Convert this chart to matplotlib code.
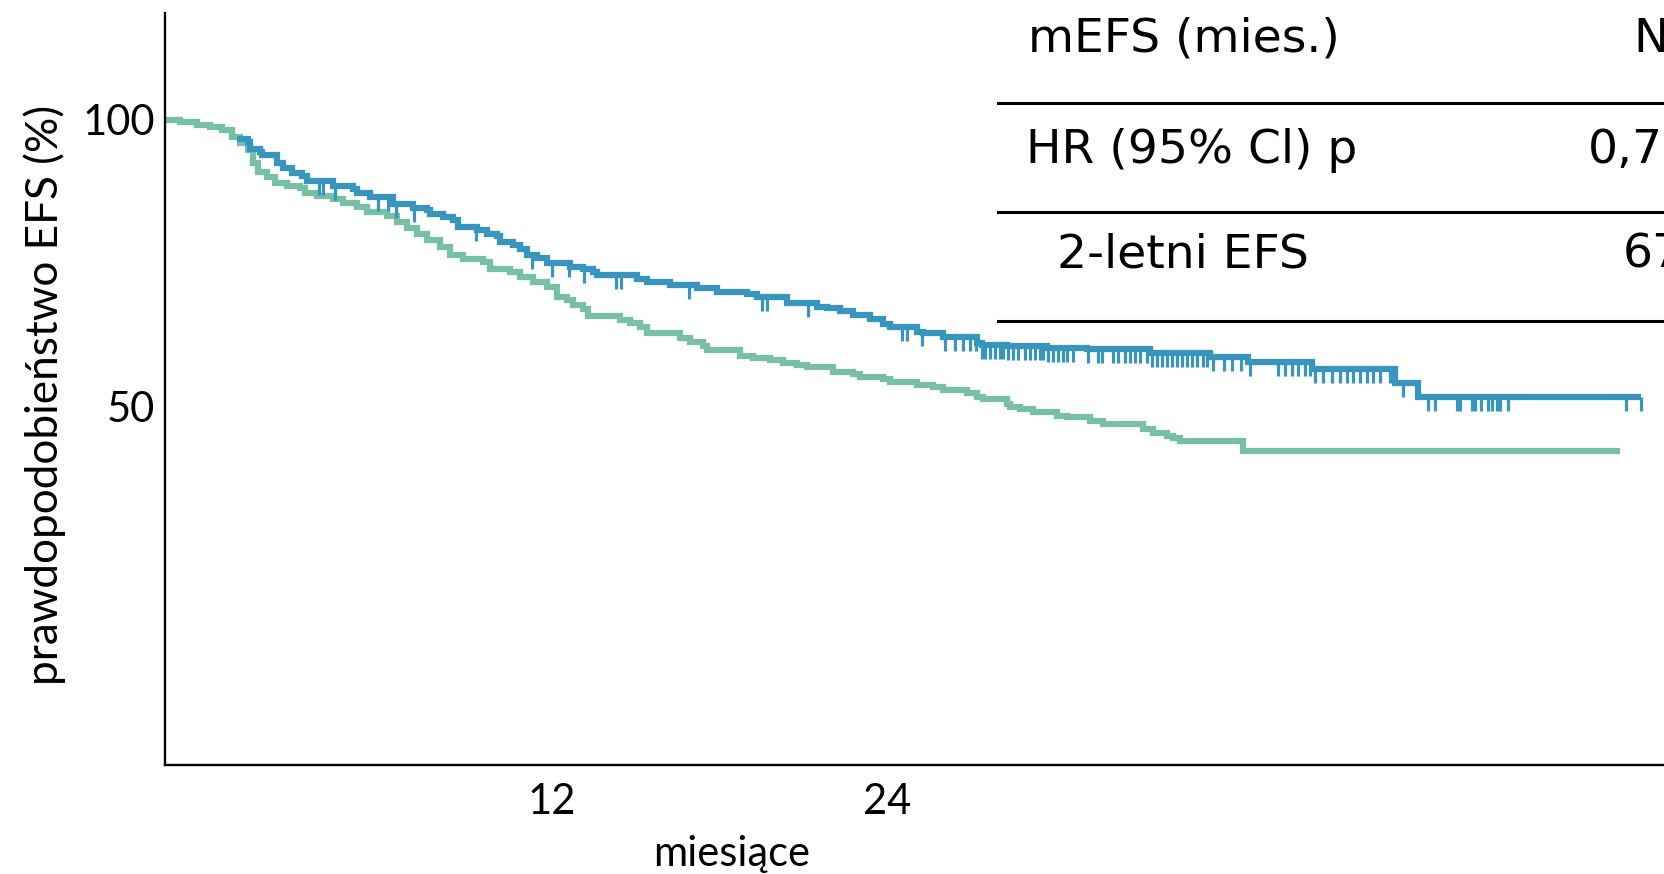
import matplotlib
matplotlib.use("Agg")
import matplotlib.pyplot as plt
from matplotlib.lines import Line2D
import numpy as np

# Kaplan-Meier event-free survival, months vs. percent
green_t = [-1.88, -1.34, -0.73, -0.27, 0.16, 0.52, 0.81, 1.10, 1.28, 1.46, 1.78, 2.06,
           2.49, 2.96, 3.14, 3.57, 4.14, 4.50, 5.00, 5.36, 6.08, 6.44, 6.80, 7.15,
           7.51, 7.98, 8.34, 8.80, 9.52, 9.77, 10.49, 10.85, 11.31, 11.81, 12.17,
           12.53, 12.75, 13.10, 13.28, 14.43, 14.79, 15.15, 15.40, 16.58, 16.94,
           17.41, 17.55, 18.73, 19.20, 19.81, 20.28, 20.77, 21.13, 22.07, 22.78,
           23.03, 23.86, 24.11, 25.08, 25.65, 26.01, 26.87, 27.23, 27.44, 28.30,
           28.41, 28.77, 29.23, 30.09, 30.45, 31.28, 31.74, 33.18, 33.53, 34.04,
           34.25, 34.50, 36.76, 50.27]
green_v = [100.0, 99.65, 99.13, 98.78, 98.26, 97.04, 95.99, 94.77, 92.50, 90.93, 90.06,
           89.01, 88.49, 88.14, 87.27, 86.75, 86.22, 85.53, 84.83, 83.96, 83.26, 82.21,
           81.17, 80.12, 79.07, 77.85, 76.46, 75.76, 75.24, 74.01, 73.49, 72.62, 71.75,
           70.88, 69.13, 68.61, 67.74, 67.04, 65.82, 65.12, 64.60, 63.90, 62.85, 61.98,
           61.28, 60.58, 59.88, 58.84, 58.49, 58.14, 57.62, 57.27, 56.92, 56.05, 55.70,
           55.18, 54.83, 54.31, 53.78, 53.44, 52.91, 52.39, 51.69, 51.34, 50.47, 49.95,
           49.60, 49.08, 48.38, 48.21, 47.51, 46.98, 46.11, 45.41, 44.89, 44.54, 44.02,
           42.27, 42.27]

blue_t = [0.72, 1.10, 1.17, 1.53, 1.60, 2.14, 2.35, 2.67, 3.03, 3.21, 4.14, 4.86, 5.00,
          5.47, 6.30, 7.01, 7.51, 7.62, 8.09, 8.45, 8.63, 9.31, 9.67, 10.02, 10.13,
          10.60, 10.85, 11.10, 11.46, 11.81, 12.64, 13.11, 13.47, 13.61, 15.04, 15.40,
          16.22, 17.19, 17.91, 18.98, 19.34, 20.42, 21.49, 21.85, 22.32, 22.78, 23.39,
          23.86, 24.11, 25.08, 25.29, 26.01, 27.23, 27.41, 28.30, 29.73, 31.17, 33.43,
          35.58, 36.94, 39.23, 42.21, 43.03, 51.03]
blue_v = [96.69, 96.16, 94.94, 94.42, 93.90, 92.50, 91.63, 90.76, 90.23, 89.36, 88.49,
          87.97, 87.27, 86.57, 85.35, 84.65, 84.30, 83.61, 83.08, 82.56, 81.34, 80.82,
          80.12, 79.77, 78.72, 78.20, 77.50, 76.46, 75.93, 75.06, 74.36, 74.01, 73.49,
          72.97, 72.27, 71.75, 71.23, 70.70, 70.00, 69.65, 69.13, 68.09, 67.39, 67.21,
          66.69, 65.99, 65.30, 64.42, 63.90, 63.03, 62.85, 62.16, 61.11, 60.76, 60.59,
          60.24, 60.06, 59.37, 58.67, 57.80, 56.58, 54.14, 51.69, 51.69]

# censored observations (months) in the blue arm
blue_censored = [3.64, 3.78, 4.21, 5.76, 6.11, 6.40, 7.05, 9.27, 11.28, 11.99, 12.60,
                 13.14, 14.29, 14.47, 16.90, 19.52, 19.70, 21.17, 24.54, 24.72, 25.26,
                 26.08, 26.44, 26.73, 26.98, 27.19, 27.41, 27.51, 27.69, 27.87, 28.05,
                 28.16, 28.34, 28.52, 28.70, 28.95, 29.13, 29.30, 29.48, 29.59, 29.77,
                 29.95, 30.13, 30.31, 30.45, 30.67, 31.21, 31.56, 31.71, 32.10, 32.28,
                 32.53, 32.71, 32.89, 33.07, 33.32, 33.50, 33.68, 33.86, 34.04, 34.22,
                 34.40, 34.57, 34.75, 34.93, 35.11, 35.33, 35.47, 35.69, 36.08, 36.37,
                 36.69, 37.01, 38.01, 38.26, 38.51, 38.73, 38.98, 39.16, 39.34, 39.63,
                 39.95, 40.24, 40.49, 40.71, 40.96, 41.21, 41.42, 41.67, 42.03, 42.50,
                 43.39, 43.64, 44.43, 44.54, 44.97, 45.08, 45.29, 45.54, 45.69, 45.87,
                 45.97, 46.26, 50.49, 51.03]

x_ticks = [12, 24]
y_ticks = [50, 100]
x_label = "miesiące"
y_label = "prawdopodobieństwo EFS (%)"

table_rows = ["mEFS (mies.)", "HR (95% Cl) p", "2-letni EFS"]
table_values = ["NR", "0,73", "67%"]

BLUE = "#3896be"
GREEN = "#77c0a5"

W, H = 1665, 874
fig = plt.figure(figsize=(W / 100, H / 100), dpi=100)
fig.patch.set_facecolor("white")

ax_l, ax_r, ax_t, ax_b = 164.6, 1665.0, 12.7, 764.6
ax = fig.add_axes([ax_l / W, 1 - ax_b / H, (ax_r - ax_l) / W, (ax_b - ax_t) / H])

ax.step(green_t, green_v, where="post", color=GREEN, lw=4.5,
        solid_joinstyle="miter", solid_capstyle="butt", zorder=2)
ax.step(blue_t, blue_v, where="post", color=BLUE, lw=4.5,
        solid_joinstyle="miter", solid_capstyle="butt", zorder=3)

# censor marks hang below the blue curve
bt = np.array(blue_t)
bv = np.array(blue_v)
idx = np.searchsorted(bt, blue_censored, side="right") - 1
levels = bv[np.clip(idx, 0, len(bv) - 1)]
ax.vlines(blue_censored, levels - 2.5, levels, color=BLUE, lw=2.3, zorder=3)

ax.set_xlim(-1.89, 51.9)
ax.set_ylim(-12.4, 118.7)

for s in ["top", "right"]:
    ax.spines[s].set_visible(False)
for s in ["left", "bottom"]:
    ax.spines[s].set_linewidth(1.7)
    ax.spines[s].set_color("black")

axis_font = dict(family="Lato", size=30)
ax.set_xticks(x_ticks)
ax.set_yticks(y_ticks)
ax.set_xticklabels([str(v) for v in x_ticks], fontdict=axis_font)
ax.set_yticklabels([str(v) for v in y_ticks], fontdict=axis_font)
ax.tick_params(axis="both", length=0)
ax.tick_params(axis="x", pad=13)
ax.tick_params(axis="y", pad=7)

ax.set_xlabel(x_label, fontdict=axis_font)
ax.xaxis.set_label_coords((732 - ax_l) / (ax_r - ax_l), (ax_b - 835) / (ax_b - ax_t))
ax.set_ylabel(y_label, fontdict=dict(family="Lato", size=31.8))
ax.yaxis.set_label_coords((66 - ax_l) / (ax_r - ax_l), (ax_b - 395) / (ax_b - ax_t))

# summary table in the upper right
table_font = dict(family="DejaVu Sans", size=34)
row_base = [52, 163, 268]
row_left = [1028, 1026, 1057]
value_left = [1633, 1588, 1623]
for txt, val, yb, xl, xv in zip(table_rows, table_values, row_base, row_left, value_left):
    fig.text(xl / W, 1 - yb / H, txt, ha="left", va="baseline", **table_font)
    fig.text(xv / W, 1 - yb / H, val, ha="left", va="baseline", **table_font)
for yl in [103, 212, 321]:
    fig.add_artist(Line2D([998 / W, 1.0], [1 - yl / H, 1 - yl / H],
                          transform=fig.transFigure, color="black", lw=2.2))

fig.savefig("out.png", dpi=100)
